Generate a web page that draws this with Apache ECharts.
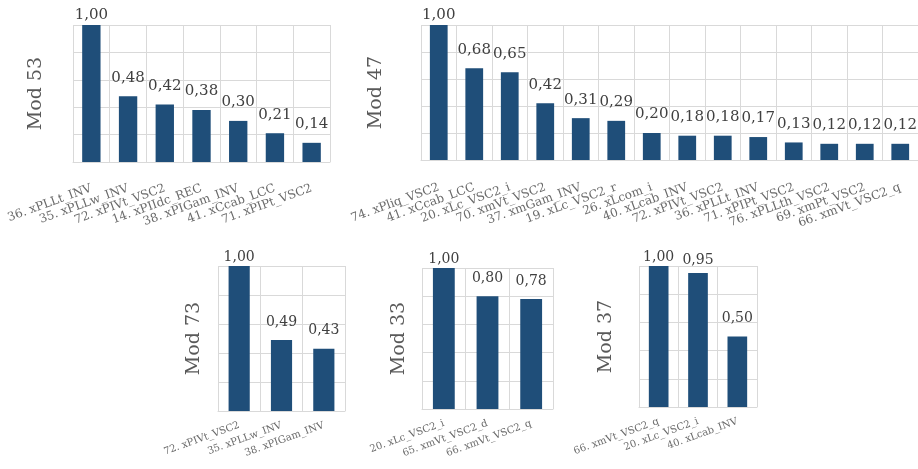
<!DOCTYPE html>
<html><head><meta charset="utf-8">
<script src="https://cdn.jsdelivr.net/npm/echarts@6/dist/echarts.min.js"></script>
<style>html,body{margin:0;padding:0;background:#fff}#c{width:918px;height:469px}</style>
</head><body><div id="c"></div>
<script>
const names = ["Mod 53", "Mod 47", "Mod 73", "Mod 33", "Mod 37"];
const cats53 = ["36. xPLLt_INV","35. xPLLw_INV","72. xPIVt_VSC2","14. xPIIdc_REC","38. xPIGam_INV","41. xCcab_LCC","71. xPIPt_VSC2"];
const vals53 = [1.00,0.48,0.42,0.38,0.30,0.21,0.14];
const cats47 = ["74. xPliq_VSC2","41. xCcab_LCC","20. xLc_VSC2_i","70. xmVt_VSC2","37. xmGam_INV","19. xLc_VSC2_r","26. xLcom_i","40. xLcab_INV","72. xPIVt_VSC2","36. xPLLt_INV","71. xPIPt_VSC2","76. xPLLth_VSC2","69. xmPt_VSC2","66. xmVt_VSC2_q"];
const vals47 = [1.00,0.68,0.65,0.42,0.31,0.29,0.20,0.18,0.18,0.17,0.13,0.12,0.12,0.12];
const cats73 = ["72. xPIVt_VSC2","35. xPLLw_INV","38. xPIGam_INV"];
const vals73 = [1.00,0.49,0.43];
const cats33 = ["20. xLc_VSC2_i","65. xmVt_VSC2_d","66. xmVt_VSC2_q"];
const vals33 = [1.00,0.80,0.78];
const cats37 = ["66. xmVt_VSC2_q","20. xLc_VSC2_i","40. xLcab_INV"];
const vals37 = [1.00,0.95,0.50];

const allCats = [cats53, cats47, cats73, cats33, cats37];
const allVals = [vals53, vals47, vals73, vals33, vals37];
const grids = [
  {left:73, top:25, width:257, height:137},
  {left:421, top:25, width:501, height:135},
  {left:218, top:266, width:127, height:145},
  {left:422, top:268, width:131, height:141},
  {left:639, top:266, width:118, height:141}
];
const catFont = [12,12,10,10,10];
const valFont = [15,15,14,14,14];
const nameGaps = [27,35,14,13,23];
const labelMargin = [26,27,14,14,14];
const FONT = "DejaVu Serif";
const gridColor = "#d9d9d9";

function labelDist(v){
  if (v >= 0.99) return 2;
  if (v >= 0.93) return 6;
  return 11;
}

const option = {
  animation:false,
  grid: grids.map(g => Object.assign({containLabel:false}, g)),
  xAxis: allCats.map((c,i) => ({
    type:'category', gridIndex:i, data:c,
    axisLine:{show:true, lineStyle:{color:gridColor, width:1}},
    axisTick:{show:false},
    splitLine:{show:true, lineStyle:{color:gridColor, width:1}},
    axisLabel:{rotate:20, interval:0, fontFamily:FONT, fontSize:catFont[i], color:'#6a6a6a', margin:labelMargin[i]}
  })),
  yAxis: allCats.map((c,i) => ({
    type:'value', gridIndex:i, min:0, max:1, interval:0.2,
    axisLabel:{show:false}, axisLine:{show:false}, axisTick:{show:false},
    splitLine:{show:true, lineStyle:{color:gridColor, width:1}},
    name:names[i], nameLocation:'middle', nameRotate:90, nameGap:nameGaps[i],
    nameTextStyle:{fontFamily:FONT, fontSize:19, color:'#595959'}
  })),
  series: allVals.map((v,i) => ({
    type:'bar', xAxisIndex:i, yAxisIndex:i, barWidth:'50%',
    data: v.map(x => ({value:x, label:{distance:labelDist(x)}})),
    itemStyle:{color:'#1f4e79'},
    label:{show:true, position:'top', fontFamily:FONT, fontSize:valFont[i], color:'#404040',
      formatter: p => p.value.toFixed(2).replace('.', ',')}
  }))
};
const chart = echarts.init(document.getElementById('c'), null, {renderer:'canvas'});
chart.setOption(option);
</script></body></html>
